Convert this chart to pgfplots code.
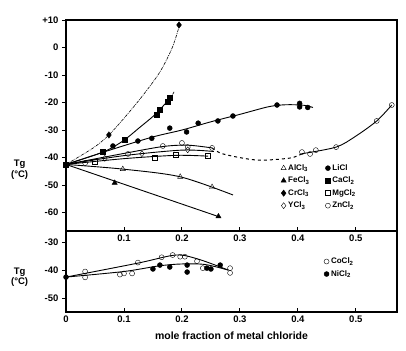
\documentclass[border=0pt]{standalone}
\usepackage{fontspec}
\setmainfont{Liberation Sans}
\usepackage{pgfplots}
\pgfplotsset{compat=1.18}
\begin{document}
\begin{tikzpicture}[font=\bfseries]
\useasboundingbox (-66pt,-119pt) rectangle (340pt,231pt);
\pgfplotsset{
  every axis/.append style={
    scale only axis, width=331pt, xmin=0, xmax=0.571,
    /pgf/number format/assume math mode=true,
    tick label style={font=\bfseries\fontsize{9.5}{10}\selectfont},
    axis line style={line width=1.2pt},
    xtick align=inside, ytick align=outside,
    xtick pos=bottom, ytick pos=left,
    major tick length=4pt, tick style={line width=0.9pt,black},
    clip=false,
  },
  ln/.style={black, line width=0.9pt, smooth, no markers, forget plot},
  mk/.style={only marks, black, mark size=2.5pt, forget plot},
}
% ---------------- upper panel ----------------
\begin{axis}[at={(0,0)}, anchor=south west, height=211pt,
  ymin=-66.7, ymax=10,
  xtick={0.1,0.2,0.3,0.4,0.5}, xticklabels={0.1,0.2,0.3,0.4,0.5},
  ytick={-60,-50,-40,-30,-20,-10,0,10},
  yticklabels={-60,-50,-40,-30,-20,-10,0,+10},
  legend columns=2,
  legend style={draw=none, fill=none, at={(0.64,0.335)}, anchor=north west,
    font=\bfseries\fontsize{8}{9}\selectfont, row sep=1.2pt,
    /tikz/every even column/.append style={column sep=14pt}},
  legend cell align=left]
% CrCl3
\addplot[ln, densely dash dot, line width=0.6pt] coordinates {(0,-42.5)(0.047,-36.5)(0.074,-31.8)(0.105,-24.5)(0.133,-17.3)(0.162,-8.9)(0.183,-0.2)(0.195,7.5)};
\addplot[mk, mark=diamond*, mark size=3.2pt] coordinates {(0.074,-31.8)(0.195,8.2)};
% CaCl2
\addplot[ln] coordinates {(0,-42.5)(0.064,-38)(0.098,-34)(0.128,-28.9)(0.153,-24.5)(0.174,-19.8)(0.179,-19)};
\addplot[ln, dashed, line width=0.6pt] coordinates {(0.179,-19)(0.188,-15.5)};
\addplot[mk, mark=square*] coordinates {(0.064,-38)(0.102,-33.6)(0.157,-24.5)(0.162,-22.7)(0.176,-19.8)(0.179,-18.4)};
% LiCl
\addplot[ln] coordinates {(0,-42.5)(0.08,-37)(0.15,-32.5)(0.2,-30)(0.25,-27)(0.3,-24.3)(0.35,-21.5)(0.38,-20.8)(0.41,-21)(0.426,-21.8)};
\addplot[mk, mark=*] coordinates {(0.081,-35.8)(0.124,-34)(0.148,-33)(0.179,-29.3)(0.208,-30.7)(0.228,-27.5)(0.262,-26.7)(0.288,-24.9)(0.364,-20.9)(0.403,-20.3)(0.403,-21.6)(0.417,-21.8)};
% ZnCl2
\addplot[ln] coordinates {(0,-42.5)(0.1,-38.5)(0.167,-36)(0.21,-35.5)(0.252,-36.5)};
\addplot[ln, dashed, line width=1pt] coordinates {(0.252,-36.5)(0.271,-38.7)(0.329,-40.9)(0.386,-40.2)(0.407,-38.6)};
\addplot[ln] coordinates {(0.407,-38.6)(0.466,-36.2)(0.5,-32.2)(0.536,-26.7)(0.562,-20.9)};
\addplot[mk, mark=o, fill=white] coordinates {(0.033,-42)(0.107,-38.7)(0.167,-35.8)(0.2,-34.7)(0.21,-36.2)(0.252,-36.5)(0.407,-38)(0.421,-38.7)(0.431,-37.3)(0.466,-36.2)(0.536,-26.7)(0.562,-20.9)};
% YCl3
\addplot[ln] coordinates {(0,-42.5)(0.1,-39.3)(0.2,-37.3)(0.255,-37.8)};
\addplot[mk, mark=diamond, mark size=3pt, fill=white] coordinates {(0.067,-40.3)(0.131,-38.6)(0.21,-37.2)};
% MgCl2
\addplot[ln] coordinates {(0,-42.5)(0.1,-40.4)(0.19,-39.2)(0.245,-39.5)};
\addplot[mk, mark=square, fill=white] coordinates {(0.05,-41.5)(0.153,-39.9)(0.19,-39.1)(0.245,-39.2)};
% AlCl3
\addplot[ln] coordinates {(0,-42.5)(0.098,-44.2)(0.197,-47)(0.288,-53.6)};
\addplot[mk, mark=triangle, mark size=3pt, fill=white] coordinates {(0.098,-44.2)(0.197,-47)(0.252,-50.7)};
% FeCl3
\addplot[ln] coordinates {(0,-42.5)(0.265,-61.6)};
\addplot[mk, mark=triangle*, mark size=3pt] coordinates {(0.084,-49.2)(0.263,-61.4)};
% origin
\addplot[mk, mark=square*] coordinates {(0,-42.5)};
% legend
\addlegendimage{only marks, mark=triangle, mark size=3pt, black}
\addlegendentry{AlCl$_\mathbf{3}$}
\addlegendimage{only marks, mark=*, mark size=2.5pt, black}
\addlegendentry{LiCl}
\addlegendimage{only marks, mark=triangle*, mark size=3pt, black}
\addlegendentry{FeCl$_\mathbf{3}$}
\addlegendimage{only marks, mark=square*, mark size=2.5pt, black}
\addlegendentry{CaCl$_\mathbf{2}$}
\addlegendimage{only marks, mark=diamond*, mark size=3.2pt, black}
\addlegendentry{CrCl$_\mathbf{3}$}
\addlegendimage{only marks, mark=square, mark size=2.5pt, black}
\addlegendentry{MgCl$_\mathbf{2}$}
\addlegendimage{only marks, mark=diamond, mark size=3pt, black}
\addlegendentry{YCl$_\mathbf{3}$}
\addlegendimage{only marks, mark=o, mark size=2.5pt, black}
\addlegendentry{ZnCl$_\mathbf{2}$}
\node[align=center, font=\bfseries\fontsize{9.5}{10.5}\selectfont] at (axis description cs:-0.14,0.29) {Tg\\(\textdegree C)};
\end{axis}
% ---------------- lower panel ----------------
\begin{axis}[at={(0,0)}, anchor=north west, height=81pt,
  ymin=-55, ymax=-26,
  xtick={0,0.1,0.2,0.3,0.4,0.5}, xticklabels={0,0.1,0.2,0.3,0.4,0.5},
  ytick={-50,-40,-30},
  xlabel={mole fraction of metal chloride},
  xlabel style={font=\bfseries\fontsize{10.5}{11}\selectfont, yshift=-3pt},
  legend style={draw=none, fill=none, at={(0.77,0.72)}, anchor=north west,
    font=\bfseries\fontsize{8}{9}\selectfont, row sep=1.2pt},
  legend cell align=left]
% CoCl2
\addplot[ln] coordinates {(0,-42.5)(0.124,-37.5)(0.19,-34.6)(0.23,-36.2)(0.28,-40)};
\addplot[mk, mark=o, fill=white] coordinates {(0.033,-40.5)(0.033,-42.6)(0.093,-41.6)(0.1,-41.2)(0.114,-41.2)(0.124,-37.3)(0.165,-35.4)(0.184,-34.6)(0.197,-35.2)(0.205,-35.2)(0.226,-36.8)(0.236,-39.3)(0.283,-39.3)(0.283,-41)};
% NiCl2
\addplot[ln] coordinates {(0,-42.5)(0.1,-40.5)(0.16,-38.5)(0.2,-37.8)(0.24,-38)(0.28,-40)};
\addplot[mk, mark=*] coordinates {(0,-42.5)(0.15,-39.6)(0.162,-38.2)(0.179,-38.9)(0.209,-38.2)(0.209,-40.7)(0.243,-39.3)(0.25,-39.6)(0.266,-38.2)};
\addlegendimage{only marks, mark=o, mark size=2.5pt, black}
\addlegendentry{CoCl$_\mathbf{2}$}
\addlegendimage{only marks, mark=*, mark size=2.5pt, black}
\addlegendentry{NiCl$_\mathbf{2}$}
\node[align=center, font=\bfseries\fontsize{9.5}{10.5}\selectfont] at (axis description cs:-0.14,0.43) {Tg\\(\textdegree C)};
\end{axis}
\end{tikzpicture}
\end{document}
